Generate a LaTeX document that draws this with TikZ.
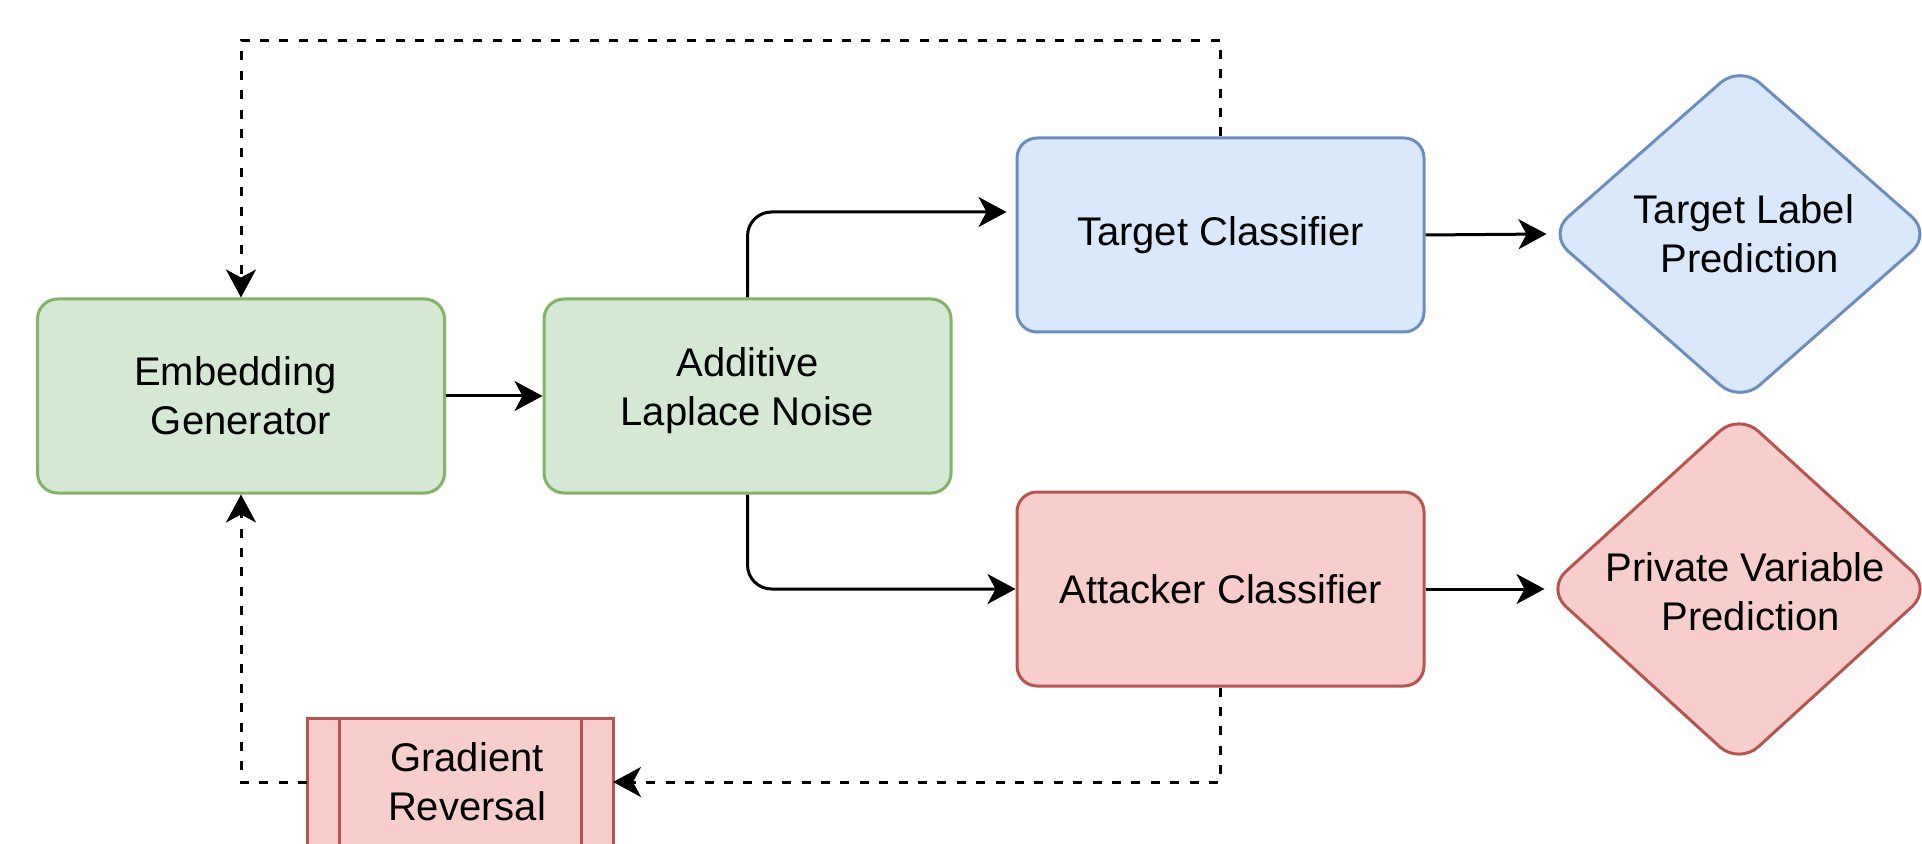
\documentclass[tikz,border=0pt]{standalone}
\usepackage{fontspec}
\setmainfont{Liberation Sans}
\usetikzlibrary{shapes.geometric,arrows.meta}
\definecolor{gfill}{HTML}{D5E8D4}
\definecolor{gline}{HTML}{82B366}
\definecolor{bfill}{HTML}{DAE8FC}
\definecolor{bline}{HTML}{6C8EBF}
\definecolor{rfill}{HTML}{F8CECC}
\definecolor{rline}{HTML}{B85450}
\begin{document}
\begin{tikzpicture}[x=0.5pt,y=-0.5pt,
  every node/.style={font=\fontsize{20}{24.5}\selectfont},
  box/.style={rectangle, rounded corners=10pt, line width=1.5pt, minimum width=203.5pt, minimum height=97pt, inner sep=0pt, align=center},
  gbox/.style={box, draw=gline, fill=gfill},
  bbox/.style={box, draw=bline, fill=bfill},
  rbox/.style={box, draw=rline, fill=rfill},
  dia/.style={diamond, rounded corners=13pt, line width=1.5pt, inner sep=0pt},
  txt/.style={align=center},
  arr/.style={line width=1.5pt, -{Stealth[length=14pt,width=15pt,inset=4pt]}},
  darr/.style={arr, dash pattern=on 4.5pt off 5.2pt},
]
\useasboundingbox (0,0) rectangle (1922,844);

% nodes
\node[gbox] (emb) at (241,396) {Embedding\kern0.28em\\Generator};
\node[gbox, label={[txt, yshift=2.5pt]center:Additive\\Laplace Noise}] (add) at (747.5,396) {};
\node[bbox] (tc) at (1220.5,235) {Target Classifier};
\node[rbox] (ac) at (1220.5,589) {Attacker Classifier};
\node[dia, draw=bline, fill=bfill, minimum width=192pt, minimum height=169pt,
      label={[txt, xshift=2pt]center:Target Label\\\hspace*{0.28em}Prediction}] (tlp) at (1740,234) {};
\node[dia, draw=rline, fill=rfill, minimum width=193pt, minimum height=176pt,
      label={[txt, xshift=3pt, yshift=-1.5pt]center:Private Variable\\\hspace*{0.28em}Prediction}] (pvp) at (1739,589) {};
\node[rectangle, draw=rline, fill=rfill, line width=1.5pt, outer sep=0pt, inner sep=0pt,
      minimum width=153pt, minimum height=64pt,
      label={[txt, xshift=3.5pt]center:Gradient\\Reversal}] (gr) at (460,782) {};
\draw[rline, line width=1.5pt] ([xshift=16pt]gr.north west) -- ([xshift=16pt]gr.south west);
\draw[rline, line width=1.5pt] ([xshift=-16pt]gr.north east) -- ([xshift=-16pt]gr.south east);

% solid connectors
\draw[arr] (emb.east) -- (add.west);
\draw[arr, rounded corners=12pt, shorten >=4.5pt] (add.north) |- ([yshift=11.5pt]tc.west);
\draw[arr, rounded corners=12pt] (add.south) |- (ac.west);
\draw[arr] (tc.east) -- (tlp.west);
\draw[arr] (ac.east) -- (pvp.west);

% dashed feedback connectors
\draw[darr] (tc.north) -- ++(0,-96) -| (emb.north);
\draw[darr] (ac.south) |- (gr.east);
\draw[darr] (gr.west) -| (emb.south);
\end{tikzpicture}
\end{document}
